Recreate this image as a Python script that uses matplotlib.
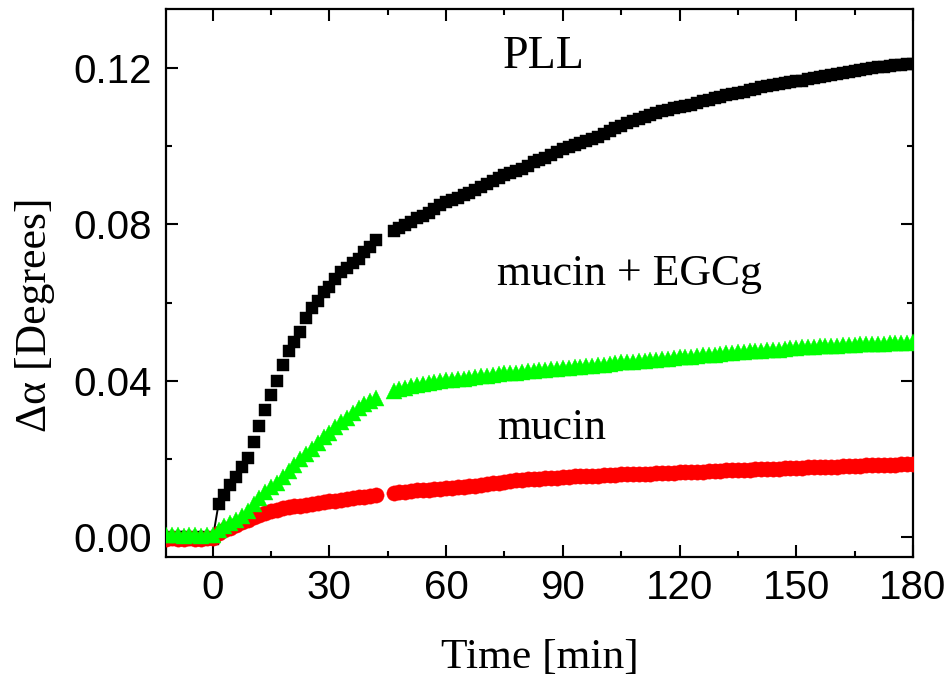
import numpy as np
import matplotlib
matplotlib.use("Agg")
import matplotlib.pyplot as plt
from matplotlib.ticker import MultipleLocator, FormatStrFormatter

# Sampling times [min]: baseline, adsorption up to the pause, then the rest
t_base = np.arange(-12.0, 0.01, 1.5)
t_early = np.arange(1.5, 42.01, 1.5)
t_late = np.arange(46.5, 180.01, 1.5)
time = np.concatenate([t_base, t_early, t_late])

# Delta alpha [degrees]
pll = [
    0.0001, -0.0002, 0.0000, 0.0002, -0.0001, 0.0000, -0.0002, 0.0001, -0.0003,
    0.0085, 0.0108, 0.0133, 0.0155, 0.0180, 0.0203, 0.0245, 0.0285, 0.0325, 0.0365,
    0.0400, 0.0440, 0.0475, 0.0500, 0.0525, 0.0560, 0.0585, 0.0605, 0.0627, 0.0640,
    0.0660, 0.0678, 0.0688, 0.0700, 0.0712, 0.0728, 0.0742, 0.0760,
    0.0782, 0.0790, 0.0798, 0.0806, 0.0815, 0.0822, 0.0830, 0.0840, 0.0850, 0.0856,
    0.0862, 0.0868, 0.0875, 0.0880, 0.0887, 0.0895, 0.0903, 0.0910, 0.0918, 0.0925,
    0.0930, 0.0936, 0.0942, 0.0950, 0.0958, 0.0963, 0.0970, 0.0978, 0.0985, 0.0993,
    0.0998, 0.1002, 0.1008, 0.1013, 0.1018, 0.1024, 0.1030, 0.1038, 0.1045, 0.1052,
    0.1058, 0.1065, 0.1070, 0.1075, 0.1080, 0.1085, 0.1089, 0.1093, 0.1097, 0.1100,
    0.1103, 0.1106, 0.1110, 0.1114, 0.1118, 0.1122, 0.1126, 0.1130, 0.1133, 0.1136,
    0.1139, 0.1142, 0.1146, 0.1150, 0.1153, 0.1156, 0.1158, 0.1161, 0.1163, 0.1165,
    0.1167, 0.1170, 0.1173, 0.1176, 0.1178, 0.1181, 0.1184, 0.1186, 0.1189, 0.1192,
    0.1195, 0.1197, 0.1199, 0.1201, 0.1202, 0.1204, 0.1206, 0.1208, 0.1209, 0.1210,
]

mucin = [
    -0.0003, -0.0002, -0.0004, -0.0003, -0.0002, -0.0004, -0.0003, -0.0002, -0.0001,
    0.0010, 0.0018, 0.0025, 0.0032, 0.0039, 0.0045, 0.0051, 0.0057, 0.0062, 0.0067,
    0.0071, 0.0074, 0.0077, 0.0079, 0.0081, 0.0083, 0.0085, 0.0088, 0.0090, 0.0092,
    0.0094, 0.0096, 0.0098, 0.0100, 0.0102, 0.0104, 0.0106, 0.0108,
    0.0114, 0.0116, 0.0117, 0.0118, 0.0120, 0.0121, 0.0122, 0.0123, 0.0124, 0.0125,
    0.0127, 0.0128, 0.0129, 0.0131, 0.0132, 0.0134, 0.0136, 0.0138, 0.0140, 0.0142,
    0.0144, 0.0146, 0.0147, 0.0148, 0.0149, 0.0150, 0.0151, 0.0152, 0.0153, 0.0154,
    0.0155, 0.0156, 0.0156, 0.0157, 0.0157, 0.0158, 0.0159, 0.0159, 0.0160, 0.0161,
    0.0161, 0.0162, 0.0162, 0.0163, 0.0163, 0.0164, 0.0164, 0.0165, 0.0165, 0.0166,
    0.0166, 0.0167, 0.0167, 0.0168, 0.0169, 0.0169, 0.0170, 0.0171, 0.0171, 0.0172,
    0.0172, 0.0173, 0.0174, 0.0174, 0.0175, 0.0176, 0.0176, 0.0177, 0.0177, 0.0178,
    0.0178, 0.0179, 0.0179, 0.0180, 0.0180, 0.0181, 0.0181, 0.0182, 0.0182, 0.0183,
    0.0183, 0.0184, 0.0184, 0.0185, 0.0185, 0.0186, 0.0186, 0.0187, 0.0187, 0.0188,
]

mucin_egcg = [
    0.0006, 0.0005, 0.0007, 0.0004, 0.0006, 0.0005, 0.0004, 0.0006, 0.0005,
    0.0018, 0.0028, 0.0036, 0.0045, 0.0055, 0.0068, 0.0085, 0.0100, 0.0115, 0.0128,
    0.0140, 0.0155, 0.0170, 0.0185, 0.0200, 0.0213, 0.0227, 0.0242, 0.0256, 0.0268,
    0.0282, 0.0294, 0.0306, 0.0318, 0.0330, 0.0340, 0.0348, 0.0356,
    0.0375, 0.0378, 0.0382, 0.0386, 0.0389, 0.0392, 0.0395, 0.0397, 0.0400, 0.0402,
    0.0403, 0.0405, 0.0406, 0.0408, 0.0410, 0.0412, 0.0413, 0.0415, 0.0417, 0.0419,
    0.0420, 0.0421, 0.0423, 0.0424, 0.0425, 0.0427, 0.0428, 0.0430, 0.0431, 0.0433,
    0.0434, 0.0435, 0.0436, 0.0438, 0.0439, 0.0440, 0.0441, 0.0443, 0.0445, 0.0447,
    0.0448, 0.0449, 0.0450, 0.0452, 0.0453, 0.0454, 0.0455, 0.0457, 0.0458, 0.0460,
    0.0461, 0.0462, 0.0464, 0.0465, 0.0466, 0.0467, 0.0468, 0.0470, 0.0471, 0.0473,
    0.0474, 0.0475, 0.0476, 0.0477, 0.0478, 0.0479, 0.0480, 0.0482, 0.0483, 0.0485,
    0.0486, 0.0486, 0.0487, 0.0488, 0.0489, 0.0489, 0.0490, 0.0491, 0.0491, 0.0492,
    0.0493, 0.0493, 0.0494, 0.0495, 0.0495, 0.0496, 0.0496, 0.0497, 0.0497, 0.0498,
]

x_ticks = [0, 30, 60, 90, 120, 150, 180]
y_ticks = [0.00, 0.04, 0.08, 0.12]

sans = "Liberation Sans"
serif = "Liberation Serif"

fig = plt.figure(figsize=(9.53, 6.84), dpi=100)
ax = fig.add_axes([0.1742, 0.1857, 0.7838, 0.8011])

pll_a = np.asarray(pll)
# thin trace at the injection step
i0 = len(t_base) - 1
ax.plot(time[i0:i0 + 2], pll_a[i0:i0 + 2], color="black", lw=1.4, zorder=2)
ax.plot(time, pll_a, ls="none", marker="s", ms=9.3, mfc="black", mec="black",
        mew=0.3, zorder=3)
ax.plot(time, mucin, ls="none", marker="o", ms=11.0, mfc="#ff0000", mec="#ff0000",
        mew=0.3, zorder=4)
ax.plot(time, mucin_egcg, ls="none", marker="^", ms=11.0, mfc="#00ff00",
        mec="#00ff00", mew=0.3, zorder=5)

ax.set_xlim(-12, 180)
ax.set_ylim(-0.005, 0.135)
ax.set_xticks(x_ticks)
ax.set_yticks(y_ticks)
ax.xaxis.set_minor_locator(MultipleLocator(15))
ax.yaxis.set_minor_locator(MultipleLocator(0.02))
ax.yaxis.set_major_formatter(FormatStrFormatter("%.2f"))

for s in ax.spines.values():
    s.set_linewidth(1.6)
ax.tick_params(which="both", direction="in", top=True, right=True, width=1.5)
ax.tick_params(which="major", length=8.5)
ax.tick_params(which="minor", length=4.5)
ax.tick_params(axis="x", which="major", pad=9)
ax.tick_params(axis="y", which="major", pad=10)
for lab in ax.get_xticklabels() + ax.get_yticklabels():
    lab.set_fontfamily(sans)
    lab.set_fontsize(29)

ax.set_xlabel("Time [min]", fontfamily=serif, fontsize=31.3, labelpad=22)
ax.set_ylabel("\u0394\u03b1 [Degrees]", fontfamily=serif, fontsize=31.5)
ax.yaxis.label.set_va("center")
ax.yaxis.set_label_coords(-0.176, 0.4416)

ax.text(74.5, 0.1228, "PLL", fontfamily=serif, fontsize=33, ha="left", va="center")
ax.text(73, 0.0672, "mucin + EGCg", fontfamily=serif, fontsize=31.5, ha="left", va="center")
ax.text(73, 0.0280, "mucin", fontfamily=serif, fontsize=31.5, ha="left", va="center")

fig.savefig("out.png", dpi=100)
